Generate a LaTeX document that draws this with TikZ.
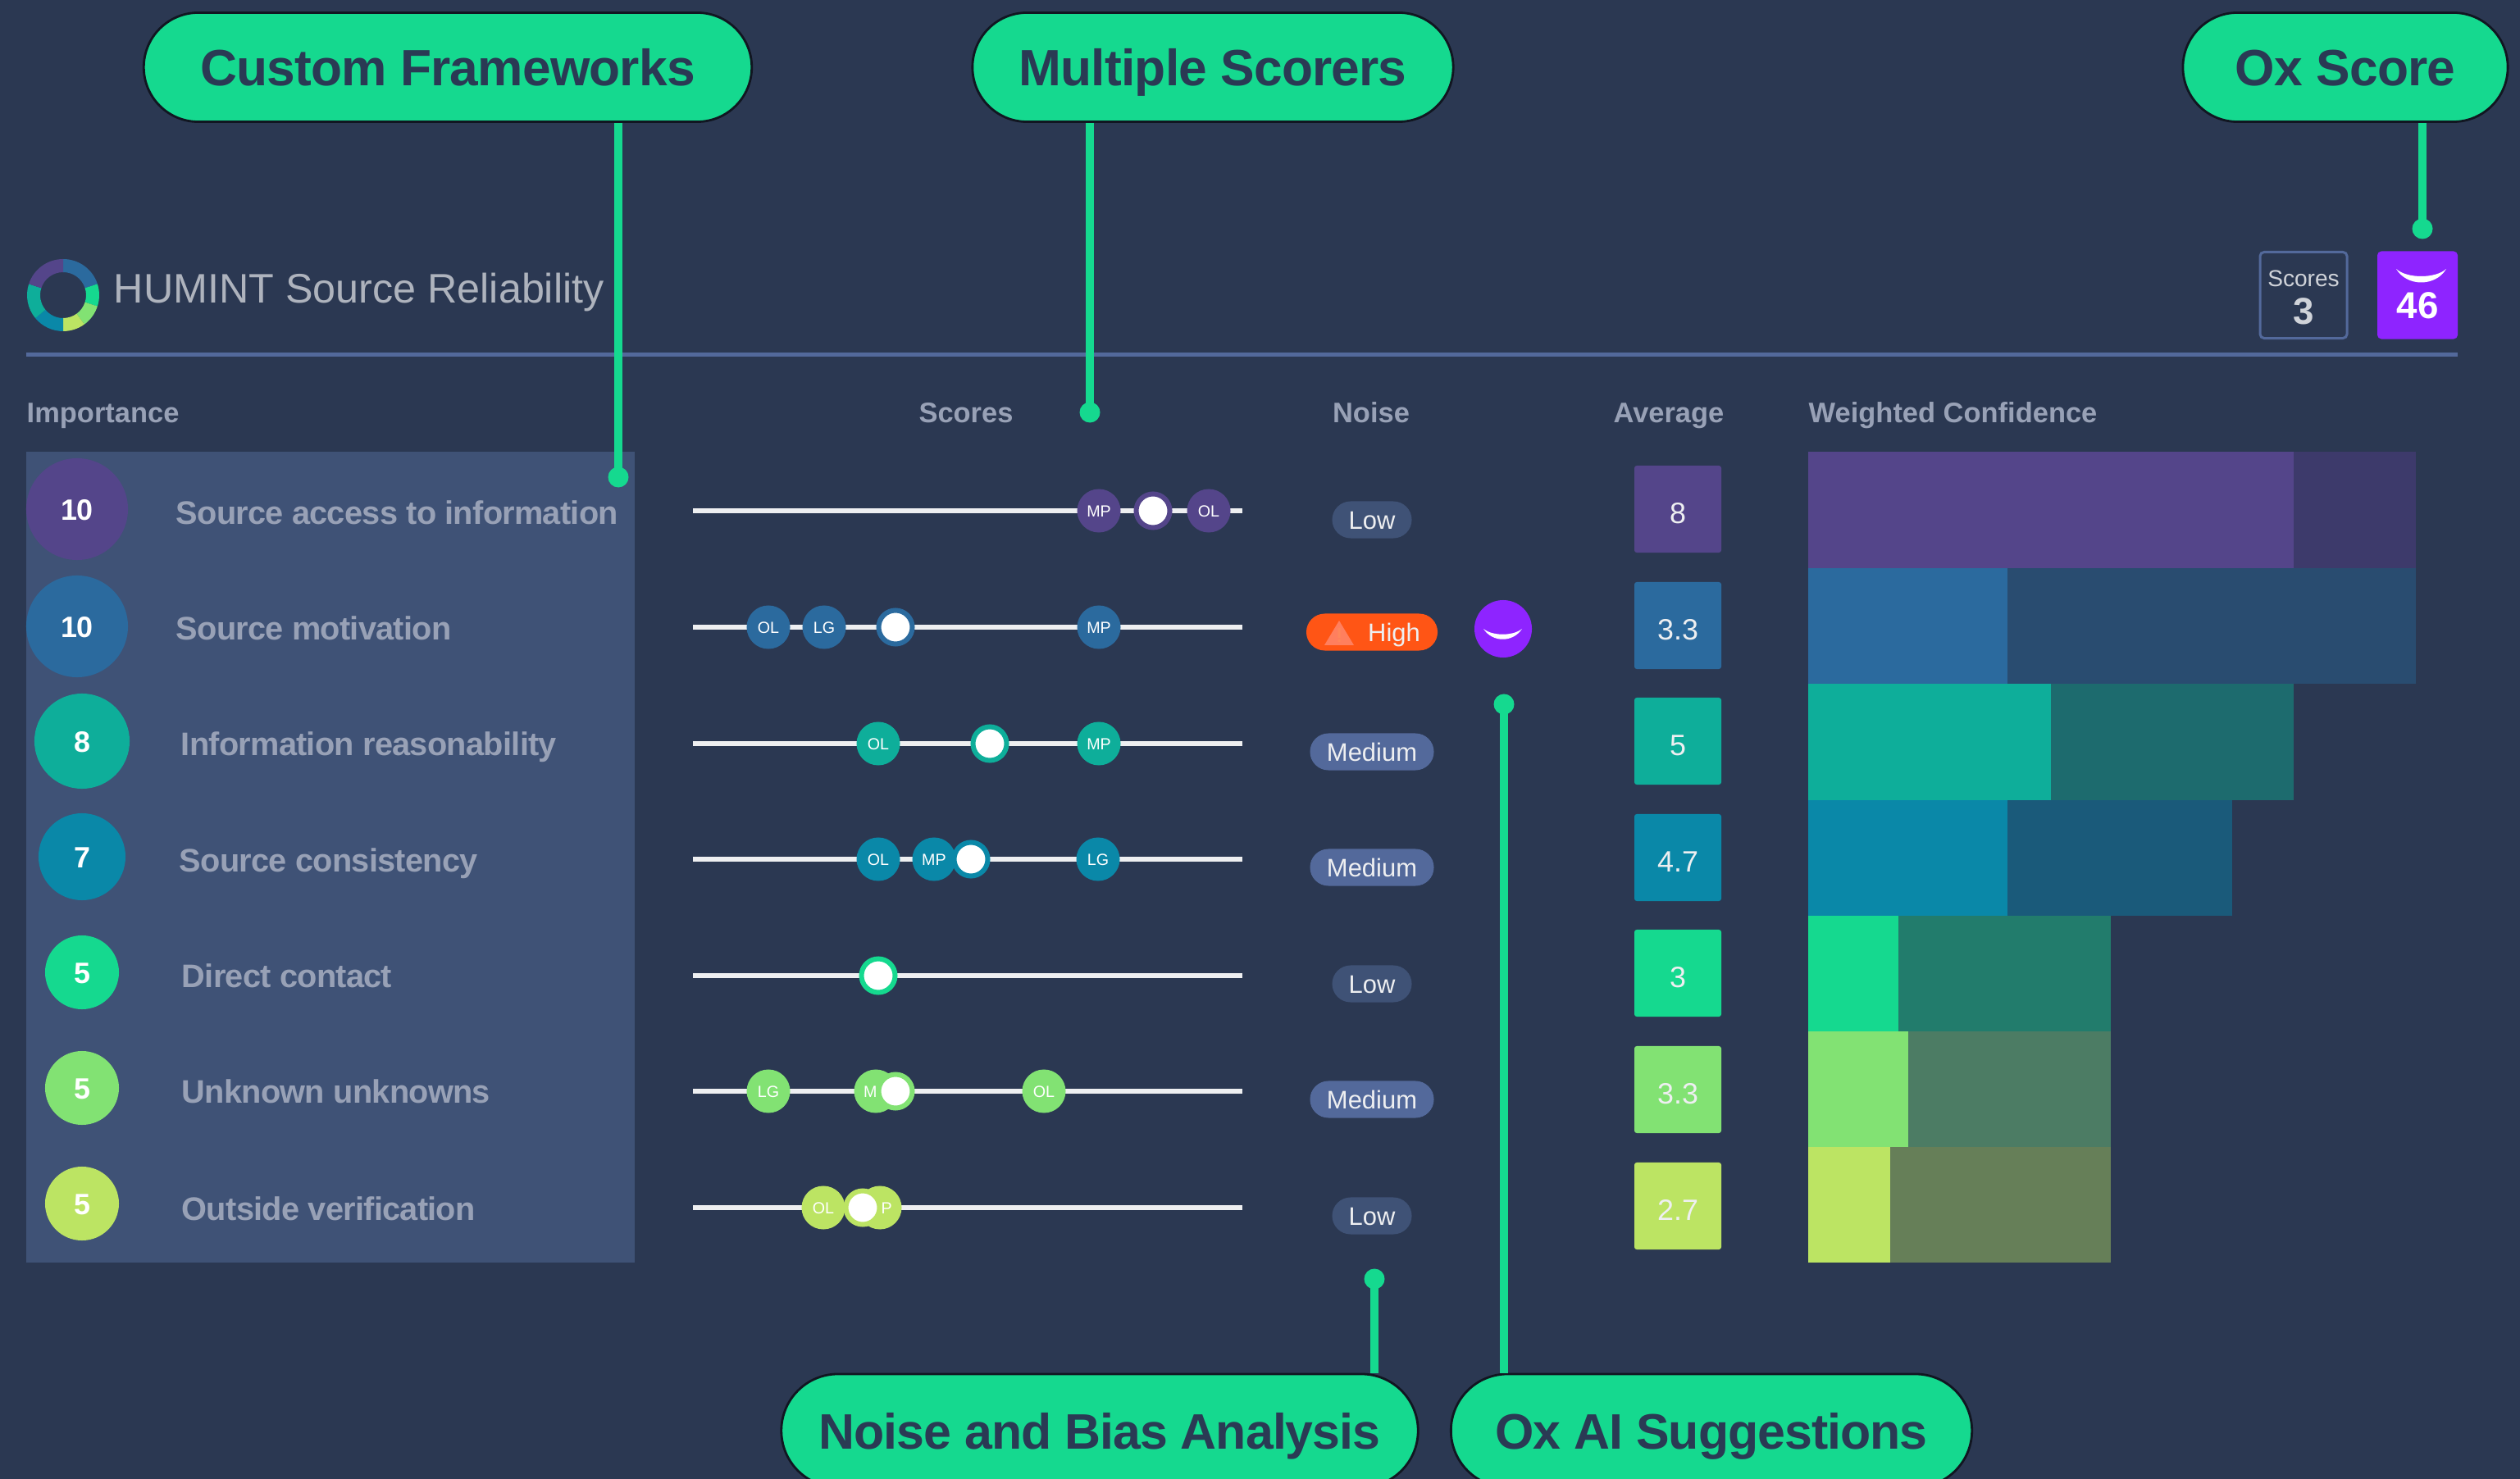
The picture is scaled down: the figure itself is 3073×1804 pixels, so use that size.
\documentclass[tikz,border=0pt]{standalone}
\usepackage{fontspec}
\usetikzlibrary{shapes.misc}
\setmainfont{Liberation Sans}
\definecolor{bgc}{HTML}{2B3852}
\definecolor{panelc}{HTML}{3F5276}
\definecolor{rulec}{HTML}{53699B}
\definecolor{mint}{HTML}{15D98F}
\definecolor{inkc}{HTML}{2A3A54}
\definecolor{greyt}{HTML}{98A1B6}
\definecolor{oxp}{HTML}{8E24FF}
\definecolor{hot}{HTML}{FF5515}
\definecolor{hotl}{HTML}{FF7F5E}
\definecolor{ca}{HTML}{54458A}\definecolor{da}{HTML}{3D3A6B}
\definecolor{cb}{HTML}{2B6A9E}\definecolor{db}{HTML}{294C70}
\definecolor{cc}{HTML}{0EAE9A}\definecolor{dc}{HTML}{1D6B6E}
\definecolor{cd}{HTML}{0A88A8}\definecolor{dd}{HTML}{1A5A7A}
\definecolor{ce}{HTML}{15D98F}\definecolor{de}{HTML}{227C6C}
\definecolor{cf}{HTML}{82E273}\definecolor{df}{HTML}{4C7C64}
\definecolor{cg}{HTML}{BCE463}\definecolor{dg}{HTML}{667F58}
\tikzset{
 x=0.01cm,y=-0.01cm,
 pill/.style={rounded rectangle,fill=mint,draw=black!60!bgc,line width=0.8pt,text=inkc,inner sep=0pt,text height=12.7pt,text depth=0pt,font=\bfseries\addfontfeature{LetterSpace=-1.3}\fontsize{17.7}{20}\selectfont},
 pillb/.style={pill,font=\bfseries\addfontfeature{LetterSpace=-1.6}\fontsize{17.3}{20}\selectfont},
 conn/.style={draw=mint,line width=0.1cm},
 dotn/.style={circle,fill=mint,minimum size=0.25cm,inner sep=0pt},
 imp/.style={circle,inner sep=0pt,text=white,text height=7.6pt,text depth=0pt,font=\bfseries\fontsize{10.2}{12}\selectfont},
 lab/.style={anchor=west,inner sep=0pt,text=greyt,text height=8.1pt,text depth=0pt,font=\bfseries\addfontfeature{LetterSpace=-1.8}\fontsize{11.3}{13}\selectfont},
 head/.style={inner sep=0pt,text=greyt,text height=7.1pt,text depth=0pt,font=\bfseries\fontsize{9.8}{12}\selectfont},
 track/.style={draw=white!92!bgc,line width=0.06cm},
 mk/.style={circle,inner sep=0pt,minimum size=0.53cm,text=white,text height=4pt,text depth=0pt,font=\fontsize{5.6}{7}\selectfont},
 knob/.style={circle,fill=white,inner sep=0pt,minimum size=0.41cm,line width=0.06cm},
 noisep/.style={rounded rectangle,inner sep=0pt,text=white!92!bgc,minimum height=0.45cm,text height=6.3pt,text depth=0pt,font=\fontsize{8.8}{10}\selectfont},
 avg/.style={rounded corners=0.03cm,inner sep=0pt,minimum width=1.06cm,minimum height=1.06cm,text=white!92!bgc,text height=10pt,text depth=0pt,font=\fontsize{10.2}{12}\selectfont},
}
\begin{document}
\begin{tikzpicture}
\clip (0,0) rectangle (3073,1804);
\fill[bgc] (0,0) rectangle (3073,1804);

% title ring
\foreach \a/\b/\c in {0/72/cb,72/108/ce,108/144/cf,144/180/cg,180/230.4/cd,230.4/288/cc,288/360/ca}{
  \fill[\c] ({77+44*sin(\a)},{360-44*cos(\a)}) arc[start angle=90-\a,end angle=90-\b,radius=0.44cm] -- ({77+28*sin(\b)},{360-28*cos(\b)}) arc[start angle=90-\b,end angle=90-\a,radius=0.28cm] -- cycle;
}
\node[anchor=west,inner sep=0pt,text=white!62!bgc,text height=10.3pt,text depth=0pt,font=\fontsize{14.3}{16}\selectfont] (title) at (138,351) {HUMINT Source Reliability};
\draw[draw=rulec,line width=0.05cm] (32,433) -- (2997,433);

% header boxes
\node[rounded corners=0.05cm,draw=rulec,line width=0.03cm,minimum width=1.06cm,minimum height=1.05cm,inner sep=0pt] (scorebox) at (2809,360) {};
\node[inner sep=0pt,text=white!78!bgc,font=\fontsize{8}{10}\selectfont] (scorelab) at (2809,340) {Scores};
\node[inner sep=0pt,text=white!78!bgc,font=\bfseries\fontsize{13}{15}\selectfont] (scoreval) at (2809,380) {3};
\node[rounded corners=0.05cm,fill=oxp,minimum width=0.98cm,minimum height=1.07cm,inner sep=0pt] (oxbox) at (2948,360) {};
\fill[white] (2922,328) .. controls (2935,350) and (2970,350) .. (2983,328) .. controls (2970,340) and (2935,340) .. (2922,328);
\node[inner sep=0pt,text=white,font=\bfseries\fontsize{13}{15}\selectfont] (oxval) at (2948,373) {46};

% column heads
\node[head,anchor=west] (himp) at (32,503) {Importance};
\node[head] (hsc) at (1178,503) {Scores};
\node[head] (hno) at (1672,503) {Noise};
\node[head] (hav) at (2035,503) {Average};
\node[head,anchor=west] (hwc) at (2205,503) {Weighted Confidence};

% left panel
\fill[panelc] (32,551) rectangle (774,1540);
\node[imp,fill=ca,minimum size=1.24cm] (i1) at (94,621) {10};
\node[imp,fill=cb,minimum size=1.24cm] (i2) at (94,764) {10};
\node[imp,fill=cc,minimum size=1.16cm] (i3) at (100,904) {8};
\node[imp,fill=cd,minimum size=1.06cm] (i4) at (100,1045) {7};
\node[imp,fill=ce,minimum size=0.90cm] (i5) at (100,1186) {5};
\node[imp,fill=cf,minimum size=0.90cm] (i6) at (100,1327) {5};
\node[imp,fill=cg,minimum size=0.90cm] (i7) at (100,1468) {5};
\node[lab] (l1) at (214,625) {Source access to information};
\node[lab] (l2) at (214,766) {Source motivation};
\node[lab] (l3) at (220,907) {Information reasonability};
\node[lab] (l4) at (218,1049) {Source consistency};
\node[lab] (l5) at (221,1190) {Direct contact};
\node[lab] (l6) at (221,1331) {Unknown unknowns};
\node[lab] (l7) at (221,1474) {Outside verification};

% score tracks
\foreach \y in {623,765,907,1048,1190,1331,1473}{\draw[track] (845,\y) -- (1515,\y);}
\node[mk,fill=ca] (m1a) at (1340,623) {MP};
\node[knob,draw=ca] (k1) at (1406,623) {};
\node[mk,fill=ca] (m1b) at (1474,623) {OL};
\node[mk,fill=cb] (m2a) at (937,765) {OL};
\node[mk,fill=cb] (m2b) at (1005,765) {LG};
\node[knob,draw=cb] (k2) at (1092,765) {};
\node[mk,fill=cb] (m2c) at (1340,765) {MP};
\node[mk,fill=cc] (m3a) at (1071,907) {OL};
\node[knob,draw=cc] (k3) at (1207,907) {};
\node[mk,fill=cc] (m3b) at (1340,907) {MP};
\node[mk,fill=cd] (m4a) at (1071,1048) {OL};
\node[mk,fill=cd] (m4b) at (1139,1048) {MP};
\node[knob,draw=cd] (k4) at (1184,1048) {};
\node[mk,fill=cd] (m4c) at (1339,1048) {LG};
\node[knob,draw=ce] (k5) at (1071,1190) {};
\node[mk,fill=cf] (m6a) at (937,1331) {LG};
\node[mk,fill=cf] (m6b) at (1068,1331) {MP};
\node[knob,draw=cf] (k6) at (1092,1331) {};
\node[mk,fill=cf] (m6c) at (1273,1331) {OL};
\node[mk,fill=cg] (m7b) at (1073,1473) {MP};
\node[mk,fill=cg] (m7a) at (1004,1473) {OL};
\node[knob,draw=cg] (k7) at (1052,1473) {};

% noise pills
\node[noisep,fill=panelc,minimum width=0.97cm] (n1) at (1673,634) {Low};
\node[noisep,fill=hot,minimum width=1.60cm] (n2) at (1673,771) {};
\fill[hotl] (1633,757) -- (1651,787) -- (1615,787) -- cycle;
\fill[hot!70!white] (1631.5,766) rectangle (1634.5,778) (1631.5,780) rectangle (1634.5,783);
\node[inner sep=0pt,text=white!92!bgc,text height=6.3pt,text depth=0pt,font=\fontsize{8.8}{10}\selectfont] (n2t) at (1700,771) {High};
\node[noisep,fill=rulec,minimum width=1.51cm] (n3) at (1673,917) {Medium};
\node[noisep,fill=rulec,minimum width=1.51cm] (n4) at (1673,1058) {Medium};
\node[noisep,fill=panelc,minimum width=0.97cm] (n5) at (1673,1200) {Low};
\node[noisep,fill=rulec,minimum width=1.51cm] (n6) at (1673,1341) {Medium};
\node[noisep,fill=panelc,minimum width=0.97cm] (n7) at (1673,1483) {Low};
\node[circle,fill=oxp,minimum size=0.70cm,inner sep=0pt] (oxc) at (1833,767) {};
\fill[white] (1809,767) .. controls (1820,784) and (1845,784) .. (1856,767) .. controls (1845,776) and (1820,776) .. (1809,767);

% averages
\node[avg,fill=ca] (a1) at (2046,621) {8};
\node[avg,fill=cb] (a2) at (2046,763) {3.3};
\node[avg,fill=cc] (a3) at (2046,904) {5};
\node[avg,fill=cd] (a4) at (2046,1046) {4.7};
\node[avg,fill=ce] (a5) at (2046,1187) {3};
\node[avg,fill=cf] (a6) at (2046,1329) {3.3};
\node[avg,fill=cg] (a7) at (2046,1471) {2.7};

% weighted bars
\foreach \t/\b/\m/\e/\c/\d in {
 551/693/2797/2946/ca/da,
 693/834/2448/2946/cb/db,
 834/976/2501/2797/cc/dc,
 976/1117/2448/2722/cd/dd,
 1117/1258/2315/2574/ce/de,
 1258/1399/2327/2574/cf/df,
 1399/1540/2305/2574/cg/dg}{
  \fill[\d] (2205,\t) rectangle (\e,\b);
  \fill[\c] (2205,\t) rectangle (\m,\b);
}

% callouts
\node[dotn] (d1) at (754,582) {};
\node[dotn] (d2) at (1329,503) {};
\node[dotn] (d3) at (2954,279) {};
\node[dotn] (d4) at (1676,1560) {};
\node[dotn] (d5) at (1834,859) {};
\node[pill,minimum width=7.41cm,minimum height=1.33cm] (p1) at (546,82) {Custom Frameworks};
\node[pill,minimum width=5.86cm,minimum height=1.33cm] (p2) at (1479,82) {Multiple Scorers};
\node[pill,minimum width=3.96cm,minimum height=1.33cm] (p3) at (2860,82) {Ox Score};
\node[pillb,minimum width=7.76cm,minimum height=1.38cm] (p4) at (1341,1745) {Noise and Bias Analysis};
\node[pillb,minimum width=6.35cm,minimum height=1.38cm] (p5) at (2087,1745) {Ox AI Suggestions};
\draw[conn] (p1.south -| d1.center) -- (d1.center);
\draw[conn] (p2.south -| d2.center) -- (d2.center);
\draw[conn] (p3.south -| d3.center) -- (d3.center);
\draw[conn] (d4.center) -- (p4.north -| d4.center);
\draw[conn] (d5.center) -- (p5.north -| d5.center);
\end{tikzpicture}
\end{document}
